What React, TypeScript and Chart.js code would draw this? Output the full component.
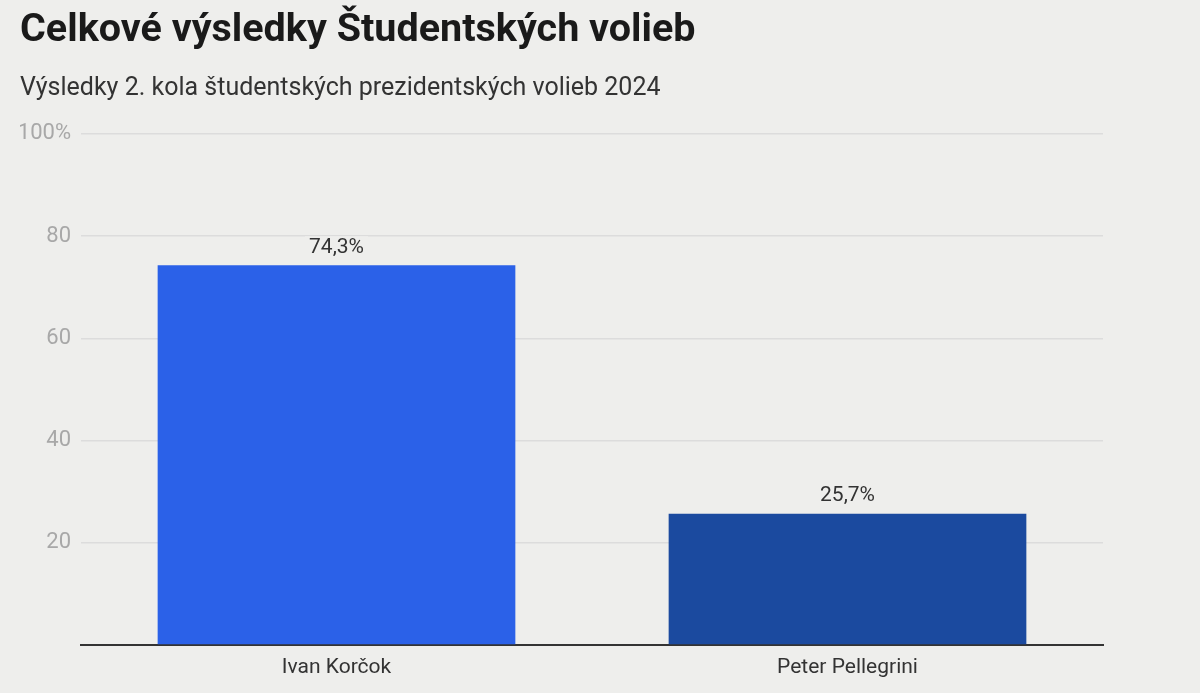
import React, { useEffect, useRef } from "react";
import { Chart, registerables } from "chart.js";

Chart.register(...registerables);

const titleText = "Celkové výsledky Študentských volieb";
const subtitleText = "Výsledky 2. kola študentských prezidentských volieb 2024";
const candidates = ["Ivan Korčok", "Peter Pellegrini"];
const shares = [74.3, 25.7];
const valueLabels = ["74,3%", "25,7%"];
const barColors = ["#2b61e8", "#1b4a9f"];
const yTicks = [20, 40, 60, 80, 100];

const BG = "#eeeeec";

const bgPlugin = {
  id: "bgFill",
  beforeDraw(chart: any) {
    const { ctx, width, height } = chart;
    ctx.save();
    ctx.fillStyle = BG;
    ctx.fillRect(0, 0, width, height);
    ctx.restore();
  },
};

const valuePlugin = {
  id: "valueLabels",
  afterDatasetsDraw(chart: any) {
    const { ctx } = chart;
    const meta = chart.getDatasetMeta(0);
    ctx.save();
    ctx.font = "21px Roboto";
    ctx.textAlign = "center";
    ctx.textBaseline = "middle";
    meta.data.forEach((bar: any, i: number) => {
      const text = valueLabels[i];
      const y = bar.y - 18;
      const w = ctx.measureText(text).width;
      ctx.fillStyle = BG;
      ctx.fillRect(bar.x - w / 2 - 4, y - 11, w + 8, 22);
      ctx.fillStyle = "#333333";
      ctx.fillText(text, bar.x, y);
    });
    ctx.restore();
  },
};

export default function App() {
  const ref = useRef<HTMLCanvasElement | null>(null);

  useEffect(() => {
    document.body.style.margin = "0";
    document.body.style.background = BG;
    const chart = new Chart(ref.current as HTMLCanvasElement, {
      type: "bar",
      data: {
        labels: candidates,
        datasets: [
          {
            data: shares,
            backgroundColor: barColors,
            borderWidth: 0,
            barPercentage: 0.7,
            categoryPercentage: 1,
          },
        ],
      },
      options: {
        animation: false,
        responsive: false,
        maintainAspectRatio: false,
        layout: { padding: { left: 20, right: 97, top: 0, bottom: 0 } },
        plugins: {
          legend: { display: false },
          tooltip: { enabled: false },
          title: {
            display: true,
            text: titleText,
            align: "start",
            color: "#1a1a1a",
            font: { family: "Roboto", size: 39.5, weight: "bold" },
            padding: { top: 7, bottom: 7 },
          },
          subtitle: {
            display: true,
            text: subtitleText,
            align: "start",
            color: "#333333",
            font: { family: "Roboto", size: 25 },
            padding: { top: 12, bottom: 30.5 },
          },
        },
        scales: {
          x: {
            grid: { display: false },
            border: { display: true, color: "#333333", width: 2 },
            ticks: {
              color: "#333333",
              font: { family: "Roboto", size: 21 },
              padding: 2,
            },
            afterFit(axis: any) {
              axis.height = 48;
            },
          },
          y: {
            min: 0,
            max: 100,
            afterBuildTicks(axis: any) {
              axis.ticks = [0, ...yTicks].map((v) => ({ value: v }));
            },
            grid: {
              color: (c: any) => (c.tick && c.tick.value === 0 ? "rgba(0,0,0,0)" : "#dcdcdc"),
              lineWidth: 1.5,
              drawTicks: false,
            },
            border: { display: false },
            ticks: {
              color: "#a8a8a8",
              font: { family: "Roboto", size: 22 },
              padding: 10,
              callback: (v: any) => (v === 0 ? "" : v === 100 ? "100%" : String(v)),
            },
            afterFit(axis: any) {
              axis.width = 61;
            },
          },
        },
      },
      plugins: [bgPlugin, valuePlugin],
    });
    return () => chart.destroy();
  }, []);

  return (
    <div style={{ position: "absolute", left: 0, top: 0, width: 1200, height: 693, background: BG }}>
      <canvas ref={ref} width={1200} height={693} style={{ display: "block", width: 1200, height: 693 }} />
    </div>
  );
}
